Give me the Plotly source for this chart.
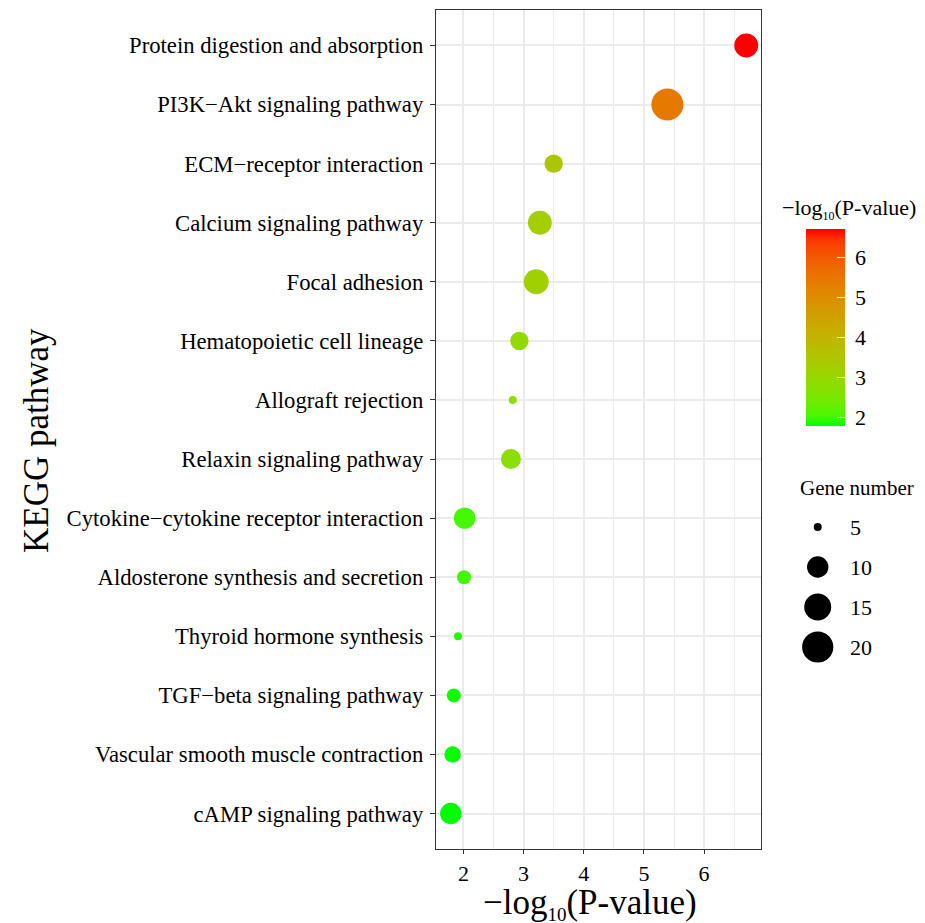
import plotly.graph_objects as go
import numpy as np

# ---------------- data ----------------
pathways = [
    "Protein digestion and absorption",
    "PI3K\u2212Akt signaling pathway",
    "ECM\u2212receptor interaction",
    "Calcium signaling pathway",
    "Focal adhesion",
    "Hematopoietic cell lineage",
    "Allograft rejection",
    "Relaxin signaling pathway",
    "Cytokine\u2212cytokine receptor interaction",
    "Aldosterone synthesis and secretion",
    "Thyroid hormone synthesis",
    "TGF\u2212beta signaling pathway",
    "Vascular smooth muscle contraction",
    "cAMP signaling pathway",
]
neglog_p = [6.70, 5.39, 3.50, 3.27, 3.21, 2.93, 2.82, 2.79, 2.02, 2.01, 1.91, 1.84, 1.82, 1.79]
gene_number = [12, 21, 8, 12, 13, 8, 5, 9, 10, 6, 5, 6, 7, 10]
size_legend_values = [5, 10, 15, 20]
x_ticks = [2, 3, 4, 5, 6]
colorbar_ticks = [2, 3, 4, 5, 6]

FONT = "Liberation Serif"

# ---------------- helpers ----------------
W, H = 925, 923
L, R, T, B = 436, 9, 10, 74
AW, AH = W - L - R, H - T - B


def px_x(px):
    return (px - L) / AW


def px_y(py):
    return (H - B - py) / AH


gmin, gmax = min(gene_number), max(gene_number)


def diam(g):
    # ggplot-like area scale: size range mapped on sqrt of rescaled value
    return 8 + 24 * np.sqrt((g - gmin) / (gmax - gmin))


def _lin(c):
    c = c / 255.0
    return c / 12.92 if c <= 0.04045 else ((c + 0.055) / 1.055) ** 2.4


def _gam(c):
    c = max(0.0, min(1.0, c))
    v = 12.92 * c if c <= 0.0031308 else 1.055 * c ** (1 / 2.4) - 0.055
    return int(round(max(0, min(1, v)) * 255))


M = np.array([[0.4124564, 0.3575761, 0.1804375],
              [0.2126729, 0.7151522, 0.0721750],
              [0.0193339, 0.1191920, 0.9503041]])
Mi = np.linalg.inv(M)
WP = np.array([0.95047, 1.0, 1.08883])


def rgb2lab(rgb):
    xyz = M @ np.array([_lin(c) for c in rgb]) / WP
    f = np.where(xyz > 216 / 24389, np.cbrt(xyz), (24389 / 27 * xyz + 16) / 116)
    return np.array([116 * f[1] - 16, 500 * (f[0] - f[1]), 200 * (f[1] - f[2])])


def lab2rgb(lab):
    fy = (lab[0] + 16) / 116
    fx = fy + lab[1] / 500
    fz = fy - lab[2] / 200
    f = np.array([fx, fy, fz])
    xyz = np.where(f ** 3 > 216 / 24389, f ** 3, (116 * f - 16) / (24389 / 27)) * WP
    lin = Mi @ xyz
    return "rgb(%d,%d,%d)" % tuple(_gam(c) for c in lin)


lo, hi = rgb2lab((0, 255, 0)), rgb2lab((255, 0, 0))
colorscale = [[t, lab2rgb(lo + (hi - lo) * t)] for t in np.linspace(0, 1, 21)]

xmin, xmax = min(neglog_p), max(neglog_p)
span = xmax - xmin
x_range = [xmin - 0.05 * span, xmax + 0.05 * span]
n = len(pathways)

cb_common = dict(
    x=px_x(806), xanchor="left", y=px_y(327.5), yanchor="middle",
    len=197, lenmode="pixels", thickness=39, thicknessmode="pixels",
    outlinewidth=0, xpad=0, ypad=0, tickvals=colorbar_ticks,
    tickfont=dict(family=FONT, size=22, color="black"),
)

fig = go.Figure()

fig.add_trace(go.Scatter(
    x=neglog_p, y=pathways, mode="markers", showlegend=False,
    xaxis="x", yaxis="y",
    marker=dict(
        size=[diam(g) for g in gene_number],
        color=neglog_p, colorscale=colorscale, cmin=xmin, cmax=xmax,
        line=dict(width=0), opacity=1,
        colorbar=dict(cb_common, ticks="outside", ticklen=6, tickcolor="white"),
    ),
))

# overlay colorbar carrying the white inside tick marks (no labels)
fig.add_trace(go.Scatter(
    x=[None], y=[None], mode="markers", showlegend=False, hoverinfo="skip",
    xaxis="x", yaxis="y",
    marker=dict(
        color=[xmin], colorscale=colorscale, cmin=xmin, cmax=xmax, showscale=True,
        colorbar=dict(cb_common, ticks="inside", ticklen=8, tickcolor="white",
                      tickwidth=1.2, showticklabels=False),
    ),
))

# size legend
fig.add_trace(go.Scatter(
    x=[0.22] * len(size_legend_values), y=size_legend_values, mode="markers",
    showlegend=False, xaxis="x2", yaxis="y2", hoverinfo="skip",
    marker=dict(size=[diam(v) for v in size_legend_values], color="black",
                opacity=1, line=dict(width=0)),
))

annotations = [
    dict(text="KEGG pathway", x=px_x(37), y=px_y(441), xref="paper", yref="paper",
         textangle=-90, showarrow=False, font=dict(family=FONT, size=35, color="black"),
         xanchor="center", yanchor="middle"),
    dict(text="\u2212log<sub><span style='font-size:19px'>10</span></sub>(P-value)",
         x=px_x(590), y=px_y(904), xref="paper",
         yref="paper", showarrow=False, font=dict(family=FONT, size=35, color="black"),
         xanchor="center", yanchor="middle"),
    dict(text="\u2212log<sub><span style='font-size:12px'>10</span></sub>(P-value)",
         x=px_x(849), y=px_y(209), xref="paper",
         yref="paper", showarrow=False, font=dict(family=FONT, size=22, color="black"),
         xanchor="center", yanchor="middle"),
    dict(text="Gene number", x=px_x(857), y=px_y(488), xref="paper", yref="paper",
         showarrow=False, font=dict(family=FONT, size=21, color="black"),
         xanchor="center", yanchor="middle"),
]
for v in size_legend_values:
    annotations.append(dict(text=str(v), x=0.46, y=v, xref="x2", yref="y2",
                            showarrow=False, xanchor="left", yanchor="middle",
                            font=dict(family=FONT, size=22, color="black")))

fig.update_layout(
    width=W, height=H,
    margin=dict(l=L, r=R, t=T, b=B, autoexpand=False),
    paper_bgcolor="white", plot_bgcolor="white",
    font=dict(family=FONT, color="black"),
    xaxis=dict(
        domain=[0, px_x(761)], range=x_range, tickvals=x_ticks,
        showgrid=True, gridcolor="#EBEBEB", gridwidth=1.5,
        minor=dict(dtick=0.5, tick0=0, showgrid=True, gridcolor="#EBEBEB", gridwidth=0.8),
        showline=True, mirror=True, linecolor="#333333", linewidth=1.3,
        ticks="outside", ticklen=4, tickwidth=1.3, tickcolor="#333333",
        tickfont=dict(family=FONT, size=22, color="black"),
        zeroline=False, anchor="y",
    ),
    yaxis=dict(
        type="category", categoryorder="array", categoryarray=pathways,
        range=[n - 1 + 0.6, -0.6],
        showgrid=True, gridcolor="#EBEBEB", gridwidth=1.5,
        showline=True, mirror=True, linecolor="#333333", linewidth=1.3,
        ticks="outside", ticklen=5, tickwidth=1.3, tickcolor="#333333",
        tickfont=dict(family=FONT, size=22.7, color="black"),
        ticklabelstandoff=2, zeroline=False, anchor="x",
    ),
    xaxis2=dict(domain=[px_x(790), px_x(916)], range=[0, 1], visible=False,
                anchor="y2", fixedrange=True),
    yaxis2=dict(domain=[px_y(667), px_y(507)], range=[22.5, 2.5], visible=False,
                anchor="x2", fixedrange=True),
    annotations=annotations,
)

fig.write_html("out.html", config={"displayModeBar": False},
               post_script="document.body.style.margin='0';")
